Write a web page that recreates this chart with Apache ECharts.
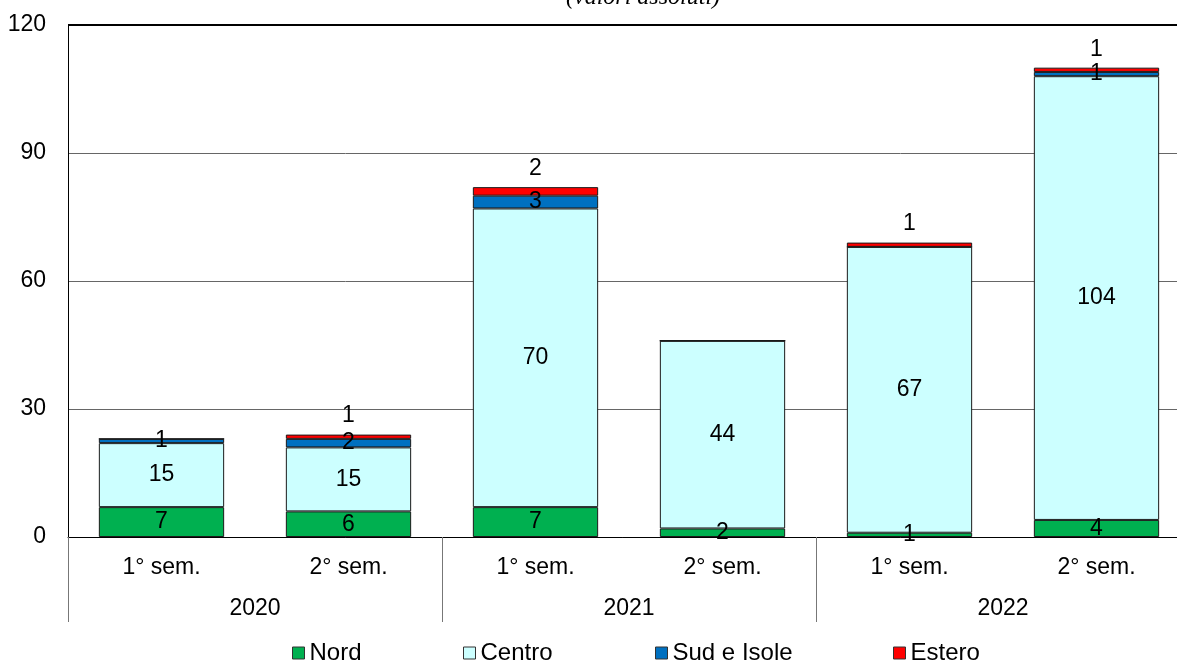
<!DOCTYPE html>
<html>
<head>
<meta charset="utf-8">
<script src="https://cdn.jsdelivr.net/npm/echarts@6/dist/echarts.min.js"></script>
<style>html,body{margin:0;padding:0;background:#fff;}#c{width:1177px;height:662px;}</style>
</head>
<body>
<div id="c"></div>
<script>
const semesters = ['1° sem.', '2° sem.', '1° sem.', '2° sem.', '1° sem.', '2° sem.'];
const years = ['2020', '2021', '2022'];
const nord = [7, 6, 7, 2, 1, 4];
const centro = [15, 15, 70, 44, 67, 104];
const sud = [1, 2, 3, 0, 0, 1];
const estero = [0, 1, 2, 0, 1, 1];
const yTicks = [0, 30, 60, 90, 120];

const FONT = 'Liberation Sans, Arial, sans-serif';
const labelFmt = p => (p.value === 0 ? '' : String(p.value));

function barSeries(name, data, color, pos, dist) {
  return {
    name: name, type: 'bar', stack: 'tot', data: data,
    barCategoryGap: '33%',
    itemStyle: { color: color, borderColor: '#1a1a1a', borderWidth: 1 },
    label: { show: true, position: pos, distance: dist || 0, formatter: labelFmt,
             color: '#000', fontSize: 23, fontFamily: FONT },
    emphasis: { disabled: true }
  };
}

const chart = echarts.init(document.getElementById('c'), null, { renderer: 'canvas' });
const legendPos = [292, 463, 655, 893];
const legendNames = ['Nord', 'Centro', 'Sud e Isole', 'Estero'];
const series = [
  barSeries('Nord', nord, '#00B050', 'inside'),
  barSeries('Centro', centro, '#CCFFFF', 'inside'),
  barSeries('Sud e Isole', sud, '#0070C0', 'inside'),
  barSeries('Estero', estero, '#FF0000', 'top', 7)
];
series[0].markLine = { silent: true, symbol: 'none', label: { show: false },
  lineStyle: { color: '#000', width: 2, type: 'solid' },
  data: [{ yAxis: yTicks[yTicks.length - 1] }] };

chart.setOption({
  animation: false,
  title: { text: '(valori assoluti)', left: 638, top: -19, textAlign: 'center',
    textStyle: { fontFamily: 'Liberation Serif, Times New Roman, serif', fontStyle: 'italic',
      fontWeight: 'normal', fontSize: 24, color: '#000' } },
  legend: legendNames.map((n, i) => ({
    data: [n], left: legendPos[i], top: 641, itemWidth: 12, itemHeight: 12, padding: 0,
    icon: 'rect', selectedMode: false,
    itemStyle: { borderColor: '#333', borderWidth: 1 },
    textStyle: { fontFamily: FONT, fontSize: 24, color: '#000' }
  })),
  grid: { left: 68, top: 25, width: 1122, height: 512, containLabel: false, outerBoundsMode: 'none' },
  xAxis: [
    { type: 'category', data: semesters, position: 'bottom',
      axisLine: { show: true, lineStyle: { color: '#000', width: 1 } },
      axisTick: { show: false },
      axisLabel: { margin: 19, fontFamily: FONT, fontSize: 23, color: '#000' } },
    { type: 'category', data: years, position: 'bottom',
      axisLine: { show: false },
      axisTick: { show: true, length: 85, lineStyle: { color: '#777', width: 1 } },
      axisLabel: { margin: 60, fontFamily: FONT, fontSize: 23, color: '#000' } }
  ],
  yAxis: { type: 'value', min: yTicks[0], max: yTicks[yTicks.length - 1], interval: 30,
    axisLine: { show: true, lineStyle: { color: '#000', width: 1 } },
    axisTick: { show: false },
    splitLine: { show: true, lineStyle: { color: '#666', width: 1 } },
    axisLabel: { margin: 22, fontFamily: FONT, fontSize: 23, color: '#000' } },
  series: series
});
</script>
</body>
</html>
